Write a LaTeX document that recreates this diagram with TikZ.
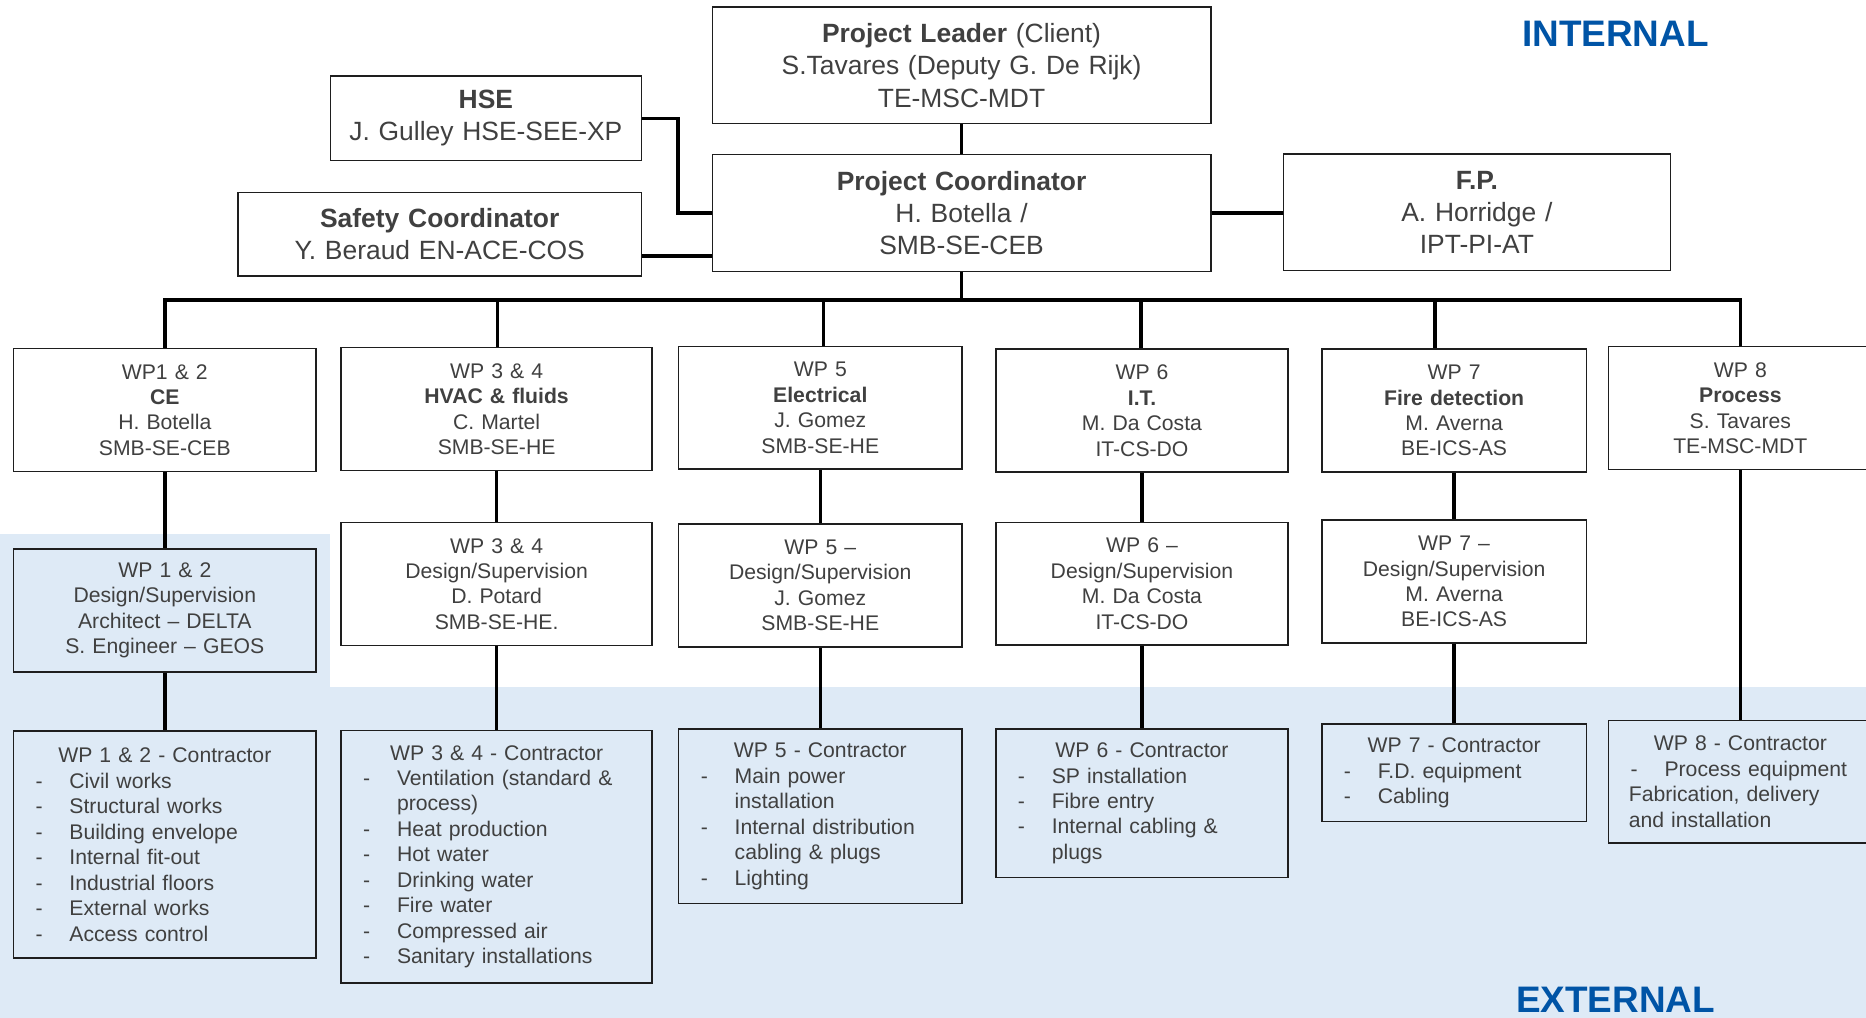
\documentclass[tikz,border=0pt]{standalone}
\usepackage{fontspec}
\setmainfont{Liberation Sans}
\usepackage{tikz}
\usepackage{xcolor}
\definecolor{orgblue}{RGB}{0,84,166}
\definecolor{orgbg}{RGB}{222,234,246}
\definecolor{orggray}{RGB}{64,64,64}
\definecolor{orgline}{RGB}{30,30,30}
\newcommand{\topfont}{\fontsize{11.1}{13.5}\selectfont}
\newcommand{\wpfont}{\fontsize{8.9}{10.7}\selectfont}
\newcommand{\sidefont}{\fontsize{15.5}{18}\selectfont\bfseries}
\newcommand{\wpitem}[1]{\hspace*{9.25pt}\makebox[14.25pt][l]{-}#1}
\newcommand{\wpcont}[1]{\hspace*{23.5pt}#1}
\tikzstyle{topbox} = [draw=orgline, line width=0.6pt, fill=white, inner sep=0pt, align=center, text=orggray, font=\topfont]
\tikzstyle{wpbox} = [draw=orgline, line width=0.6pt, fill=white, inner sep=0pt, align=center, text=orggray, font=\wpfont, minimum height=51.6pt]
\tikzstyle{listbox} = [draw=orgline, line width=0.6pt, fill=orgbg, inner sep=0pt, align=left, text=orggray, font=\wpfont]
\tikzstyle{link} = [line width=1.5pt, color=black]

\begin{document}
\begin{tikzpicture}[x=0.5pt, y=-0.5pt]
\useasboundingbox (0,0) rectangle (1568,855);
\clip (0,0) rectangle (1568,855);
% Background
\fill[white] (0,0) rectangle (1568,855);
\fill[orgbg] (0,448.6) rectangle (277.5,577.4);
\fill[orgbg] (0,577.4) rectangle (1568,855);
\node[font=\sidefont, text=orgblue] (internal) at (1357.5,28) {INTERNAL};
\node[font=\sidefont, text=orgblue, anchor=base] (external) at (1357.5,851) {EXTERNAL};

% Management
\node[topbox, text width=209.5pt, minimum height=49pt] (pl) at (808,55) {\textbf{Project Leader} (Client)\\S.Tavares (Deputy G. De Rijk)\\TE-MSC-MDT};
\node[topbox, text width=209.5pt, minimum height=49pt] (pc) at (808,179) {\textbf{Project Coordinator}\\H. Botella /\\SMB-SE-CEB};
\node[topbox, text width=130.75pt, minimum height=35.5pt] (hse) at (408.25,99.5) {\textbf{HSE}\\J. Gulley HSE-SEE-XP};
\node[topbox, text width=169.5pt, minimum height=35pt] (sc) at (369.5,197) {\textbf{Safety Coordinator}\\Y. Beraud EN-ACE-COS};
\node[topbox, text width=162.5pt, minimum height=49pt] (fp) at (1241,178.4) {\textbf{F.P.}\\A. Horridge /\\IPT-PI-AT};

% Work packages
\node[wpbox, text width=127.15pt] (wp12) at (138.5,344.5) {WP1 \& 2\\\textbf{CE}\\H. Botella\\SMB-SE-CEB};
\node[wpbox, text width=130.7pt] (wp34) at (417.3,343.7) {WP 3 \& 4\\\textbf{HVAC \& fluids}\\C. Martel\\SMB-SE-HE};
\node[wpbox, text width=118.95pt] (wp5) at (689.3,342.6) {WP 5\\\textbf{Electrical}\\J. Gomez\\SMB-SE-HE};
\node[wpbox, text width=122.8pt] (wp6) at (959.6,345) {WP 6\\\textbf{I.T.}\\M. Da Costa\\IT-CS-DO};
\node[wpbox, text width=111.15pt] (wp7) at (1221.9,345) {WP 7\\\textbf{Fire detection}\\M. Averna\\BE-ICS-AS};
\node[wpbox, text width=110.7pt] (wp8) at (1462.4,342.9) {WP 8\\\textbf{Process}\\S. Tavares\\TE-MSC-MDT};

% Design / supervision
\node[wpbox, fill=orgbg, text width=127.15pt] (ds12) at (138.5,512.9) {WP 1 \& 2\\Design/Supervision\\Architect -- DELTA\\S. Engineer -- GEOS};
\node[wpbox, text width=130.7pt] (ds34) at (417.3,490.7) {WP 3 \& 4\\Design/Supervision\\D. Potard\\SMB-SE-HE.};
\node[wpbox, text width=118.95pt] (ds5) at (689.3,492) {WP 5 --\\Design/Supervision\\J. Gomez\\SMB-SE-HE};
\node[wpbox, text width=122.8pt] (ds6) at (959.6,490.5) {WP 6 --\\Design/Supervision\\M. Da Costa\\IT-CS-DO};
\node[wpbox, text width=111.15pt] (ds7) at (1221.9,488.7) {WP 7 --\\Design/Supervision\\M. Averna\\BE-ICS-AS};

% Contractors
\node[listbox, text width=127.15pt, minimum height=95.3pt] (ct12) at (138.5,709.7) {\makebox[\linewidth]{WP 1 \& 2 - Contractor}\\
  \wpitem{Civil works}\\\wpitem{Structural works}\\\wpitem{Building envelope}\\\wpitem{Internal fit-out}\\
  \wpitem{Industrial floors}\\\wpitem{External works}\\\wpitem{Access control}};
\node[listbox, text width=130.7pt, minimum height=106.1pt] (ct34) at (417.3,719.9) {\makebox[\linewidth]{WP 3 \& 4 - Contractor}\\
  \wpitem{Ventilation (standard \&}\\\wpcont{process)}\\\wpitem{Heat production}\\\wpitem{Hot water}\\
  \wpitem{Drinking water}\\\wpitem{Fire water}\\\wpitem{Compressed air}\\\wpitem{Sanitary installations}};
\node[listbox, text width=118.95pt, minimum height=73.2pt] (ct5) at (689.3,685.8) {\makebox[\linewidth]{WP 5 - Contractor}\\
  \wpitem{Main power}\\\wpcont{installation}\\\wpitem{Internal distribution}\\\wpcont{cabling \& plugs}\\\wpitem{Lighting}};
\node[listbox, text width=122.8pt, minimum height=62.4pt] (ct6) at (959.6,675) {\makebox[\linewidth]{WP 6 - Contractor}\\
  \wpitem{SP installation}\\\wpitem{Fibre entry}\\\wpitem{Internal cabling \&}\\\wpcont{plugs}};
\node[listbox, text width=111.15pt, minimum height=41pt] (ct7) at (1221.9,649.5) {\makebox[\linewidth]{WP 7 - Contractor}\\
  \wpitem{F.D. equipment}\\\wpitem{Cabling}};
\node[listbox, text width=110.7pt, minimum height=51.5pt] (ct8) at (1462.4,656.9) {\makebox[\linewidth]{WP 8 - Contractor}\\
  \wpitem{Process equipment}\\\hspace*{8.5pt}Fabrication, delivery\\\hspace*{8.5pt}and installation};

% Connectors
\coordinate (bus) at (808,252);
\coordinate (scj) at ([yshift=-9pt]sc.east);
\draw[link] (pl) -- (pc);
\draw[link] (hse.east) -- ++(30,0) |- (pc.west);
\draw[link] (scj) -- (scj -| pc.west);
\draw[link] (pc.east) -- (pc.east -| fp.west);
\draw[link] (pc.south) -- (bus);
\draw[link] (wp12.north) |- (bus) -| (wp8.north);
\foreach \wp/\x in {wp34/418, wp5/692, wp6/959, wp7/1206}
  \draw[link] (\x,252) -- (\x,252 |- \wp.north);
\foreach \n in {12,34,5,6,7} {
  \draw[link] (wp\n) -- (ds\n);
  \draw[link] (ds\n) -- (ct\n);
}
\draw[link] (wp8) -- (ct8);
\end{tikzpicture}
\end{document}
